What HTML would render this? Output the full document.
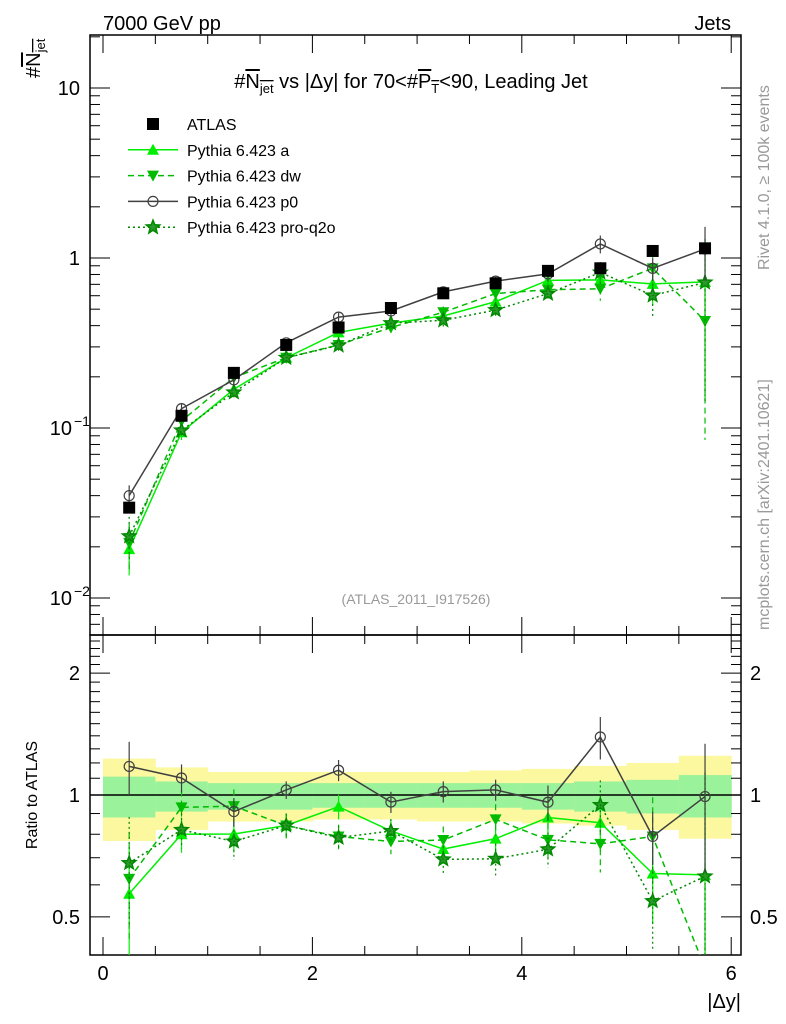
<!DOCTYPE html>
<html><head><meta charset="utf-8"><style>
html,body{margin:0;padding:0;background:#fff;}
svg{display:block;font-family:"Liberation Sans",sans-serif;}
</style></head><body>
<svg id="c" width="786" height="1024" viewBox="0 0 786 1024" xmlns="http://www.w3.org/2000/svg">
<text x="103" y="30" font-size="20">7000 GeV pp</text>
<text x="731" y="30" font-size="20" text-anchor="end">Jets</text>
<text x="411" y="88" font-size="20" text-anchor="middle">#<tspan text-decoration="overline">N<tspan font-size="13" dy="5">jet</tspan></tspan><tspan dy="-5"> vs |Δy| for 70&lt;#</tspan><tspan text-decoration="overline">P<tspan font-size="13" dy="5">T</tspan></tspan><tspan dy="-5">&lt;90, Leading Jet</tspan></text>
<text transform="translate(40,78) rotate(-90)" font-size="20">#<tspan text-decoration="overline">N<tspan font-size="13" dy="5">jet</tspan></tspan></text>
<text transform="translate(37,795) rotate(-90)" font-size="16" text-anchor="middle">Ratio to ATLAS</text>
<text x="741" y="1008" font-size="20" text-anchor="end">|Δy|</text>
<text transform="translate(769,270) rotate(-90)" font-size="16" fill="#999">Rivet 4.1.0, ≥ 100k events</text>
<text transform="translate(769,630) rotate(-90)" font-size="16" fill="#999">mcplots.cern.ch [arXiv:2401.10621]</text>
<text x="416" y="604" font-size="14" fill="#999" text-anchor="middle">(ATLAS_2011_I917526)</text>
<g id="g"></g>
</svg>
<script>
const xCenters=[0.25,0.75,1.25,1.75,2.25,2.75,3.25,3.75,4.25,4.75,5.25,5.75];
const atlas=[0.034,0.118,0.211,0.308,0.39,0.508,0.62,0.71,0.84,0.87,1.10,1.14];
const p0=[0.040,0.130,0.192,0.317,0.449,0.488,0.632,0.731,0.806,1.21,0.869,1.13];
const pyA=[0.0194,0.0944,0.169,0.259,0.365,0.414,0.456,0.554,0.739,0.743,0.704,0.724];
const pyDW=[0.0211,0.110,0.198,0.259,0.308,0.390,0.480,0.618,0.651,0.659,0.869,0.426];
const pyQ2O=[0.0231,0.0968,0.162,0.259,0.306,0.414,0.430,0.494,0.617,0.822,0.602,0.718];
const p0Err=[0.15,0.08,0.08,0.05,0.06,0.06,0.06,0.06,0.10,0.12,0.15,0.35];
const mcErr=[0.3,0.1,0.1,0.07,0.07,0.07,0.08,0.09,0.10,0.15,0.25,0.8];
const yellowUp=[1.23,1.17,1.14,1.14,1.14,1.14,1.14,1.15,1.16,1.18,1.20,1.25];
const yellowDn=[0.77,0.82,0.86,0.86,0.87,0.87,0.86,0.86,0.85,0.84,0.82,0.78];
const greenUp=[1.11,1.08,1.07,1.07,1.07,1.07,1.07,1.07,1.07,1.08,1.09,1.12];
const greenDn=[0.88,0.91,0.92,0.92,0.93,0.93,0.93,0.93,0.92,0.91,0.90,0.88];
const xTicks=[0,2,4,6];

const L=90,R=741,T=35,M=635,B=955;
const X=v=>103+v*104.7;
const Y=v=>258-170*Math.log10(v);
const YR=v=>795-405*Math.log10(v);
const g=document.getElementById('g');
const NS='http://www.w3.org/2000/svg';
function el(t,a,p){const e=document.createElementNS(NS,t);for(const k in a)e.setAttribute(k,a[k]);(p||g).appendChild(e);return e;}
function clipV(y,top,bot){return Math.max(top,Math.min(bot,y));}

xCenters.forEach((c,i)=>{
  const b1=el('rect',{x:X(c-0.25),y:YR(yellowUp[i]),width:104.7/2+0.5,height:YR(yellowDn[i])-YR(yellowUp[i]),fill:'#fbf8a0'});
  
  
  const b2=el('rect',{x:X(c-0.25),y:YR(greenUp[i]),width:104.7/2+0.5,height:YR(greenDn[i])-YR(greenUp[i]),fill:'#9af29a'});
  
  
});
el('line',{x1:L,x2:R,y1:YR(1),y2:YR(1),stroke:'#000','stroke-width':1.5});

const f1=el('rect',{x:L,y:T,width:R-L,height:M-T,fill:'none',stroke:'#000','stroke-width':1.5});

const f2=el('rect',{x:L,y:M,width:R-L,height:B-M,fill:'none',stroke:'#000','stroke-width':1.5});


for(let v=0;v<=6.01;v+=0.5){
  const maj=Math.abs(v-Math.round(v/2)*2)<0.01,len=maj?18:9,x=X(v);
  [[B,-1],[M,-1],[M,1],[T,1]].forEach(([y,d])=>el('line',{x1:x,x2:x,y1:y,y2:y+d*len,stroke:'#000','stroke-width':1}));
}
xTicks.forEach(v=>{const t=el('text',{x:X(v),y:980,'font-size':20,'text-anchor':'middle'});t.textContent=v;
});

for(let e=-3;e<=1;e++)for(let m=1;m<=9;m++){const v=m*Math.pow(10,e),y=Y(v);if(y<T||y>M)continue;
  const len=m==1?20:10;el('line',{x1:L,x2:L+len,y1:y,y2:y,stroke:'#000'});el('line',{x1:R,x2:R-len,y1:y,y2:y,stroke:'#000'});}
const yl=[[10,'10',''],[1,'1',''],[0.1,'10','−1'],[0.01,'10','−2']];
yl.forEach(([v,b,s])=>{const t=el('text',{x:s?72:80,y:Y(v)+7,'font-size':20,'text-anchor':'end'});t.textContent=b;
 
 if(s){const u=el('text',{x:74,y:Y(v)-2,'font-size':14});u.textContent=s;}});

for(let v=0.5;v<=2.45;v+=0.1){const y=YR(v),maj=[0.5,1,2].some(q=>Math.abs(q-v)<0.01),len=maj?20:10;
 el('line',{x1:L,x2:L+len,y1:y,y2:y,stroke:'#000'});el('line',{x1:R,x2:R-len,y1:y,y2:y,stroke:'#000'});}
[[2,'2'],[1,'1'],[0.5,'0.5']].forEach(([v,s])=>{
 const a=el('text',{x:80,y:YR(v)+7,'font-size':20,'text-anchor':'end'});a.textContent=s;
 
 const b=el('text',{x:750,y:YR(v)+7,'font-size':20});b.textContent=s;
 });

function marker(type,x,y,col,par){
  if(type=='sq')return el('rect',{x:x-6,y:y-6,width:12,height:12,fill:'#000'},par);
  if(type=='circ')return el('circle',{cx:x,cy:y,r:5,fill:'none',stroke:col,'stroke-width':1.2},par);
  if(type=='up')return el('polygon',{points:`${x},${y-6} ${x-6},${y+5} ${x+6},${y+5}`,fill:col},par);
  if(type=='dn')return el('polygon',{points:`${x},${y+6} ${x-6},${y-5} ${x+6},${y-5}`,fill:col},par);
  if(type=='star'){let p=[];for(let k=0;k<10;k++){const r=k%2?3:7,a=-Math.PI/2+k*Math.PI/5;p.push((x+r*Math.cos(a)).toFixed(1)+','+(y+r*Math.sin(a)).toFixed(1));}
    return el('polygon',{points:p.join(' '),fill:'#2a9a2a',stroke:col,'stroke-width':1.5},par);}
}
const series=[
 {name:'pythia-a',vals:pyA,err:mcErr,col:'#00ee00',dash:'',m:'up',w:1.5},
 {name:'pythia-dw',vals:pyDW,err:mcErr,col:'#00bb00',dash:'6,4',m:'dn',w:1.5},
 {name:'pythia-q2o',vals:pyQ2O,err:mcErr,col:'#008800',dash:'2,3',m:'star',w:1.5},
 {name:'pythia-p0',vals:p0,err:p0Err,col:'#404040',dash:'',m:'circ',w:1.5},
];
series.forEach(s=>{
  const grp=el('g',{});
  const pm=[],pr=[];
  xCenters.forEach((c,i)=>{
    const x=X(c),v=s.vals[i],e=s.err[i],r=v/atlas[i];
    const y=Y(v),yr=YR(r);
    pm.push(x+','+y);pr.push(x+','+clipV(yr,M,B+40));
    el('line',{x1:x,x2:x,y1:clipV(Y(v*(1+e)),T,M),y2:clipV(Y(Math.max(v*(1-e),1e-4)),T,M),stroke:s.col,'stroke-width':1.2,'stroke-dasharray':s.dash},grp);
    el('line',{x1:x,x2:x,y1:clipV(YR(r*(1+e)),M,B),y2:clipV(YR(Math.max(r*(1-e),1e-3)),M,B),stroke:s.col,'stroke-width':1.2,'stroke-dasharray':s.dash},grp);
    const mk=marker(s.m,x,y,s.col,grp);
    if(yr<B){const mr=marker(s.m,x,yr,s.col,grp);}
  });
  el('polyline',{points:pm.join(' '),fill:'none',stroke:s.col,'stroke-width':s.w,'stroke-dasharray':s.dash},grp);
  const cp=el('clipPath',{id:'cp'+s.name});el('rect',{x:L,y:M,width:R-L,height:B-M},cp);
  el('polyline',{points:pr.join(' '),fill:'none',stroke:s.col,'stroke-width':s.w,'stroke-dasharray':s.dash,'clip-path':`url(#cp${s.name})`},grp);
});
const ag=el('g',{});
xCenters.forEach((c,i)=>{const m=marker('sq',X(c),Y(atlas[i]),'#000',ag);});

const leg=[['ATLAS','sq','#000',''],['Pythia 6.423 a','up','#00ee00',''],['Pythia 6.423 dw','dn','#00bb00','6,4'],['Pythia 6.423 p0','circ','#404040',''],['Pythia 6.423 pro-q2o','star','#008800','2,3']];
leg.forEach(([t,m,c,d],i)=>{
  const y=124+i*25.8,lg=el('g',{});
  if(i>0)el('line',{x1:128,x2:178,y1:y,y2:y,stroke:c,'stroke-width':1.5,'stroke-dasharray':d},lg);
  marker(m,153,y,c,lg);
  const tx=el('text',{x:187,y:y+6,'font-size':16},lg);tx.textContent=t;
});
</script>
</body></html>
